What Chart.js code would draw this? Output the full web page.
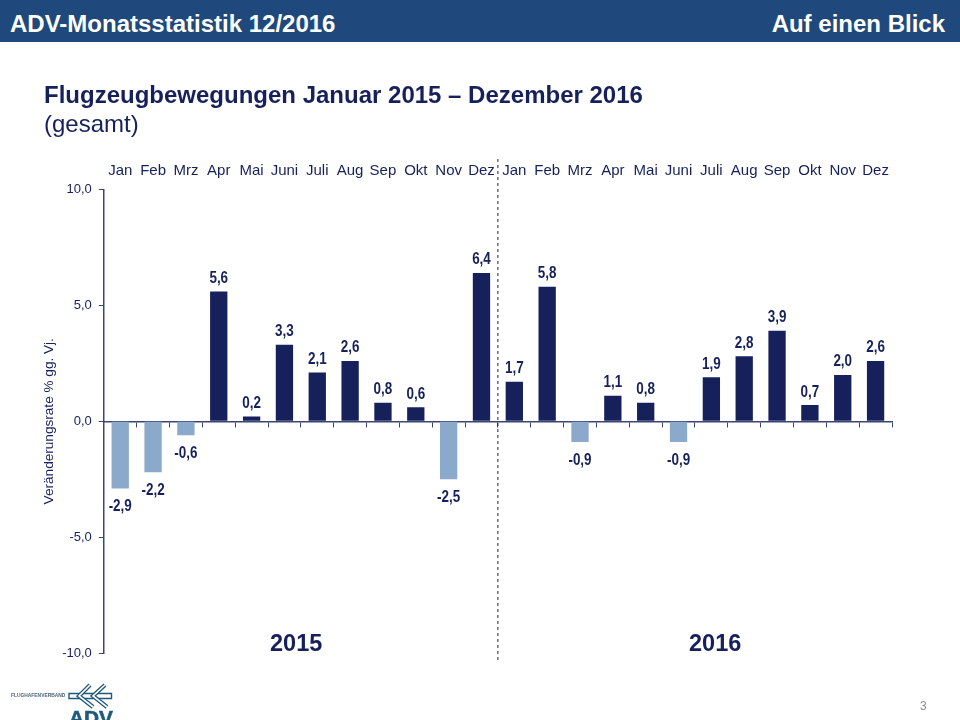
<!DOCTYPE html>
<html lang="de"><head><meta charset="utf-8">
<script src="https://cdn.jsdelivr.net/npm/chart.js@4/dist/chart.umd.min.js"></script>
<style>
html,body{margin:0;padding:0;background:#fff;width:960px;height:720px;overflow:hidden;font-family:"Liberation Sans",Arial,sans-serif}
#wrap{position:relative;width:960px;height:720px;overflow:hidden}
#chart{position:absolute;left:0;top:0}
.t{position:absolute;white-space:nowrap}
#bar{position:absolute;left:0;top:0;width:960px;height:42px;background:#1f497d}
</style></head><body>
<div id="wrap">
<canvas id="chart" width="960" height="720"></canvas>
<div id="bar"></div>
<div class="t" style="left:10px;top:10px;font:bold 24px 'Liberation Sans';line-height:28px;color:#fff">ADV-Monatsstatistik 12/2016</div>
<div class="t" style="right:15px;top:10px;font:bold 24px 'Liberation Sans';line-height:28px;color:#fff">Auf einen Blick</div>
<div class="t" style="left:44px;top:81px;font:bold 24px 'Liberation Sans';line-height:28px;color:#16215b">Flugzeugbewegungen Januar 2015 – Dezember 2016</div>
<div class="t" style="left:44px;top:110px;font:24px 'Liberation Sans';line-height:28px;color:#16215b">(gesamt)</div>
<div class="t" style="left:270px;top:630px;font:bold 23.5px 'Liberation Sans';color:#16215b">2015</div>
<div class="t" style="left:689px;top:630px;font:bold 23.5px 'Liberation Sans';color:#16215b">2016</div>
<div class="t" style="left:920px;top:699px;font:12px 'Liberation Sans';color:#8c8c8c">3</div>
<div class="t" style="left:11px;top:693px;font:bold 4.9px 'Liberation Sans';color:#4a6478">FLUGHAFENVERBAND</div>
<svg style="position:absolute;left:0;top:680px" width="130" height="40" viewBox="0 680 130 40">
 <path d="M69 693.5H111.5V698.5H69Z" fill="none" stroke="#1f5a7a" stroke-width="1.4"/>
 <g fill="none" stroke-linejoin="miter">
  <path d="M90 685L79 696L93 707M105 685L93 696L107 707" stroke="#1f5a7a" stroke-width="4.2"/>
  <path d="M90 685L79 696L93 707M105 685L93 696L107 707" stroke="#fff" stroke-width="1.6"/>
 </g>
 <text x="69" y="725" font-family="Liberation Sans" font-weight="bold" font-size="21" fill="#1f5a7a" stroke="#1f5a7a" stroke-width="0.6" textLength="44" lengthAdjust="spacingAndGlyphs">ADV</text>
</svg>
</div>
<script>
const months = ['Jan','Feb','Mrz','Apr','Mai','Juni','Juli','Aug','Sep','Okt','Nov','Dez','Jan','Feb','Mrz','Apr','Mai','Juni','Juli','Aug','Sep','Okt','Nov','Dez'];
const changes = [-2.9,-2.2,-0.6,5.6,0.2,3.3,2.1,2.6,0.8,0.6,-2.5,6.4,1.7,5.8,-0.9,1.1,0.8,-0.9,1.9,2.8,3.9,0.7,2.0,2.6];
const yearSplitAfter = 11;
const axisTitle = 'Veränderungsrate % gg. Vj.';
const NAVY='#16215b', LIGHT='#8aa9cb', AXIS='#3c4672';
const deComma = v => v.toFixed(1).replace('.',',');

const overlay = {
  id:'overlay',
  afterDatasetsDraw(c){
    const ctx=c.ctx, meta=c.getDatasetMeta(0), x=c.scales.x;
    ctx.save();
    ctx.font='bold 16px "Liberation Sans"';
    ctx.fillStyle=NAVY; ctx.textAlign='center'; ctx.textBaseline='alphabetic';
    meta.data.forEach((b,i)=>{
      const v=changes[i];
      ctx.save();
      ctx.translate(b.x, v>=0 ? b.y-8.5 : b.y+22.5);
      ctx.scale(0.84,1);
      ctx.fillText(deComma(v),0,0);
      ctx.restore();
    });
    const sx=(x.getPixelForValue(yearSplitAfter)+x.getPixelForValue(yearSplitAfter+1))/2;
    ctx.strokeStyle=NAVY; ctx.lineWidth=1; ctx.setLineDash([3,3]);
    ctx.beginPath(); ctx.moveTo(sx,159); ctx.lineTo(sx,660); ctx.stroke();
    ctx.restore();
  }
};

new Chart(document.getElementById('chart'),{
  type:'bar',
  data:{labels:months,datasets:[{
    data:changes,
    backgroundColor:changes.map(v=>v<0?LIGHT:NAVY),
    barPercentage:0.527,categoryPercentage:1
  }]},
  plugins:[overlay],
  options:{
    responsive:false,animation:false,devicePixelRatio:1,
    layout:{padding:{left:41,right:68,top:159.5,bottom:67}},
    plugins:{legend:{display:false},tooltip:{enabled:false}},
    scales:{
      x:{type:'category',position:{y:0},offset:true,
        grid:{display:true,drawOnChartArea:false,offset:true,tickLength:5,color:AXIS,lineWidth:1},
        border:{color:AXIS,width:1.5},
        ticks:{display:false}},
      xTop:{type:'category',position:'top',offset:true,labels:months,
        grid:{display:false},border:{display:false},
        ticks:{color:NAVY,font:{family:'Liberation Sans',size:15},padding:2,maxRotation:0,autoSkip:false}},
      y:{min:-10,max:10,
        afterFit(s){s.width=62.8;},
        title:{display:true,text:axisTitle,color:NAVY,font:{family:'Liberation Sans',size:13.6},padding:{top:0,bottom:0}},
        grid:{drawOnChartArea:false,tickLength:5,color:AXIS},
        border:{color:AXIS,width:1.5},
        ticks:{stepSize:5,color:NAVY,padding:7,font:{family:'Liberation Sans',size:13},callback:v=>deComma(v)}}
    }
  }
});
</script>
</body></html>
